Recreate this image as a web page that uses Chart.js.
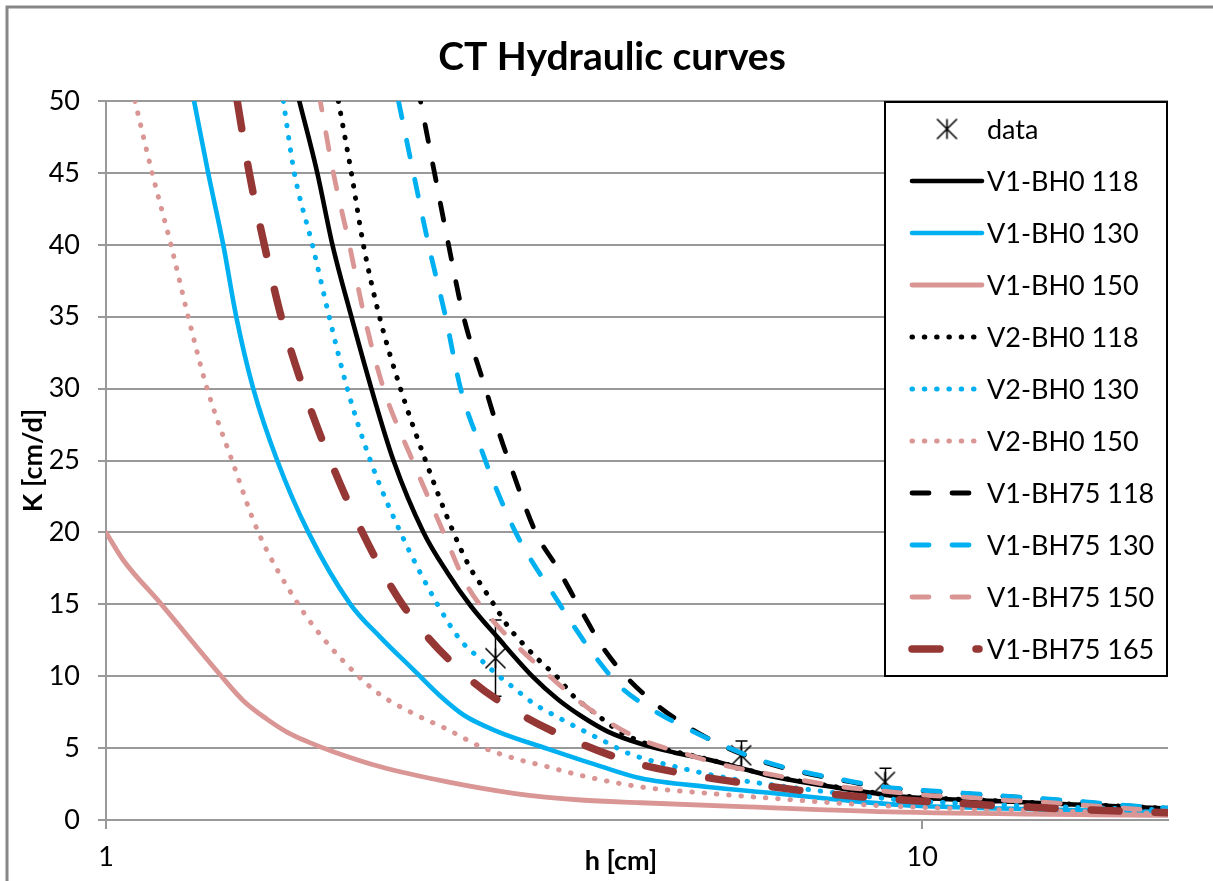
<!DOCTYPE html>
<html>
<head>
<meta charset="utf-8">
<script src="https://cdn.jsdelivr.net/npm/chart.js@4.4.1/dist/chart.umd.min.js"></script>
<style>
  html, body { margin: 0; padding: 0; background: #ffffff; }
  canvas { display: block; }
</style>
</head>
<body>
<canvas id="chart" width="1213" height="881"></canvas>
<script>
// ---- Chart values: h [cm] (x) and K [cm/d] (y) for each curve ----
const chartTitle = 'CT Hydraulic curves';
const xTitle = 'h [cm]';
const yTitle = 'K [cm/d]';
const xTickValues = [1, 10];
const yTickValues = [0, 5, 10, 15, 20, 25, 30, 35, 40, 45, 50];

// measured points
const dataH = [3.0, 6.0, 9.0];
const dataK = [11.25, 4.5, 2.65];
const dataErr = [2.65, 1.0, 0.95];

const hV1BH0_118 = [1.725, 1.815, 1.894, 1.998, 2.114, 2.25, 2.449, 2.62, 2.797, 3.018, 3.342, 3.576, 3.816, 4.119, 4.52, 4.963, 5.463, 5.997, 6.582, 7.247, 7.954, 8.733, 9.424, 12.5, 16.58, 20];
const kV1BH0_118 = [50, 45, 40, 35, 30, 25, 20, 17.2, 14.9, 12.7, 9.9, 8.4, 7.25, 6.15, 5.3, 4.7, 4.2, 3.6, 3.0, 2.57, 2.2, 1.86, 1.63, 1.3, 1.0, 0.8];

const hV1BH0_130 = [1.282, 1.334, 1.392, 1.444, 1.515, 1.621, 1.77, 1.993, 2.169, 2.38, 2.569, 2.742, 3.018, 3.476, 4.004, 4.52, 5.463, 6.582, 7.954, 9.424, 12.5, 20];
const kV1BH0_130 = [50, 45, 40, 35, 30, 25, 20, 15, 12.7, 10.45, 8.6, 7.3, 6.15, 4.95, 3.8, 2.9, 2.3, 1.86, 1.39, 1.04, 0.8, 0.55];

const hV1BH0_150 = [1.0, 1.049, 1.165, 1.38, 1.473, 1.576, 1.668, 1.765, 1.899, 2.169, 2.62, 3.158, 3.816, 4.52, 5.997, 9.424, 20];
const kV1BH0_150 = [20, 18.1, 15.1, 10.1, 8.3, 7.0, 6.1, 5.45, 4.75, 3.7, 2.65, 1.86, 1.39, 1.2, 0.93, 0.55, 0.32];

const hV2BH0_118 = [1.926, 1.998, 2.067, 2.163, 2.295, 2.463, 2.665, 2.789, 2.901, 3.001, 3.114, 3.249, 3.408, 3.576, 3.741, 3.926, 4.073, 4.272, 4.65, 5.356, 6.582, 7.954, 9.424, 12.5, 20];
const kV2BH0_118 = [50, 45, 40, 35, 30, 25, 20, 17.6, 16.1, 14.8, 13.4, 12.2, 11.0, 9.9, 8.6, 7.65, 6.95, 6.1, 5.2, 4.35, 3.05, 2.25, 1.68, 1.32, 0.82];

const hV2BH0_130 = [1.649, 1.701, 1.79, 1.877, 1.975, 2.108, 2.295, 2.547, 2.719, 2.86, 3.001, 3.158, 3.342, 3.536, 3.816, 4.119, 4.357, 4.949, 5.797, 7.066, 8.659, 9.424, 12.5, 20];
const kV2BH0_130 = [50, 45, 40, 35, 30, 25, 20, 15, 12.5, 11.3, 10.2, 9.2, 8.1, 7.3, 6.3, 5.35, 4.65, 3.75, 2.9, 2.2, 1.6, 1.39, 1.05, 0.7];

const hV2BH0_150 = [1.085, 1.139, 1.201, 1.261, 1.33, 1.427, 1.537, 1.72, 1.841, 2.038, 2.169, 2.38, 2.62, 2.877, 3.158, 3.476, 3.816, 4.52, 5.463, 6.582, 7.954, 9.424, 20];
const kV2BH0_150 = [50, 45, 40, 35, 30, 25, 20, 15, 12.7, 10, 8.7, 7.4, 6.3, 5.1, 4.3, 3.7, 3.1, 2.3, 1.86, 1.5, 1.16, 0.93, 0.45];

const hV1BH75_118 = [2.428, 2.526, 2.628, 2.742, 2.917, 3.044, 3.114, 3.361, 3.576, 3.827, 4.061, 4.357, 4.73, 5.207, 5.748, 6.381, 7.145, 7.954, 8.906, 10, 11.19, 12.53, 14.04, 15.72, 17.6, 20];
const kV1BH75_118 = [50, 45, 40, 35, 30, 26.6, 25, 20, 17.5, 14.5, 12.0, 9.85, 8.0, 6.35, 5.05, 4.05, 3.3, 2.78, 2.28, 2.03, 1.84, 1.65, 1.45, 1.24, 1.0, 0.8];

const hV1BH75_130 = [2.282, 2.38, 2.484, 2.606, 2.719, 2.869, 2.984, 3.176, 3.332, 3.496, 3.72, 3.97, 4.272, 4.677, 5.177, 5.748, 6.381, 7.145, 7.954, 8.906, 10, 11.19, 12.53, 14.04, 15.72, 17.6, 20];
const kV1BH75_130 = [50, 45, 40, 35, 30, 26.1, 23.5, 20, 17.9, 16.1, 13.7, 11.4, 9.25, 7.65, 6.3, 5.1, 4.1, 3.35, 2.82, 2.32, 2.07, 1.88, 1.68, 1.48, 1.27, 1.03, 0.83];

const hV1BH75_150 = [1.83, 1.899, 1.987, 2.073, 2.188, 2.374, 2.591, 2.757, 2.934, 3.176, 3.457, 3.762, 4.119, 4.52, 5.09, 5.683, 6.345, 7.106, 7.976, 8.906, 10, 11.19, 12.53, 14.04, 15.72, 17.6, 20];
const kV1BH75_150 = [50, 45, 40, 35, 30, 25, 20, 16.5, 14.3, 12.2, 10.25, 8.45, 6.85, 5.6, 4.65, 3.85, 3.3, 2.78, 2.3, 2.03, 1.74, 1.6, 1.39, 1.25, 1.04, 0.83, 0.6];

const hV1BH75_165 = [1.448, 1.498, 1.563, 1.639, 1.745, 1.883, 2.061, 2.307, 2.765, 3.221, 3.784, 4.419, 5.386, 6.471, 7.755, 9.162, 11.16, 13.42, 16.12, 20];
const kV1BH75_165 = [50, 45, 40, 35, 30, 25, 20, 15, 10, 7.35, 5.4, 4.0, 3.0, 2.35, 1.8, 1.45, 1.15, 0.9, 0.7, 0.5];

// ---- styling ----
const BLACK = '#000000';
const BLUE = '#00b0f0';
const PINK = '#d99694';
const DARKRED = '#953735';
const DOT = [0.5, 11.8];
const DASH = [17, 23];
const LONGDASH = [28, 36];
const FONT = 'Lato, "Open Sans", sans-serif';
const GRID = '#999999';

const pts = (hs, ks) => hs.map((v, i) => ({ x: v, y: ks[i] }));

function curve(label, hs, ks, color, width, dash) {
  return {
    label,
    data: pts(hs, ks),
    showLine: true,
    borderColor: color,
    backgroundColor: color,
    borderWidth: width,
    borderDash: dash,
    borderDashOffset: 0,
    borderCapStyle: 'round',
    borderJoinStyle: 'round',
    cubicInterpolationMode: 'monotone',
    pointRadius: 0,
    fill: false
  };
}

// six-armed asterisk used for the measured points
function makeStar(size) {
  const c = document.createElement('canvas');
  c.width = size; c.height = size;
  const g = c.getContext('2d');
  const m = size / 2, r = size / 2 - 1.5;
  g.strokeStyle = '#000';
  g.lineWidth = 1.6;
  g.beginPath();
  g.moveTo(m - r, m - r); g.lineTo(m + r, m + r);
  g.moveTo(m - r, m + r); g.lineTo(m + r, m - r);
  g.moveTo(m, m - r); g.lineTo(m, m + r);
  g.stroke();
  return c;
}

// pixel length of a drawn curve from its first point up to pixel column xEnd
function lengthTo(meta, xEnd) {
  const p = meta.data;
  let len = 0;
  for (let i = 1; i < p.length; i++) {
    const a = p[i - 1], b = p[i];
    if (b.x <= xEnd) {
      len += Math.hypot(b.x - a.x, b.y - a.y);
    } else {
      const t = (xEnd - a.x) / (b.x - a.x);
      len += t * Math.hypot(b.x - a.x, b.y - a.y);
      break;
    }
  }
  return len;
}

function build() {
  const star = makeStar(23);

  const curves = [
    curve('V1-BH0 118', hV1BH0_118, kV1BH0_118, BLACK, 4.6, []),
    curve('V1-BH0 130', hV1BH0_130, kV1BH0_130, BLUE, 4.6, []),
    curve('V1-BH0 150', hV1BH0_150, kV1BH0_150, PINK, 4.8, []),
    curve('V2-BH0 118', hV2BH0_118, kV2BH0_118, BLACK, 5, DOT),
    curve('V2-BH0 130', hV2BH0_130, kV2BH0_130, BLUE, 5, DOT),
    curve('V2-BH0 150', hV2BH0_150, kV2BH0_150, PINK, 5, DOT),
    curve('V1-BH75 118', hV1BH75_118, kV1BH75_118, BLACK, 4.8, DASH),
    curve('V1-BH75 130', hV1BH75_130, kV1BH75_130, BLUE, 4.8, DASH),
    curve('V1-BH75 150', hV1BH75_150, kV1BH75_150, PINK, 4.8, DASH),
    curve('V1-BH75 165', hV1BH75_165, kV1BH75_165, DARKRED, 7.5, LONGDASH)
  ];

  const dataSet = {
    label: 'data',
    data: pts(dataH, dataK),
    showLine: false,
    pointStyle: star,
    pointRadius: 11,
    borderColor: '#000',
    backgroundColor: '#000'
  };

  const datasets = [dataSet].concat(curves);
  // later series are painted over earlier ones
  datasets.forEach((d, i) => { d.order = datasets.length - i; });

  // outer frame, title and axis titles
  const framePlugin = {
    id: 'frame',
    beforeDraw(chart) {
      const ctx = chart.ctx;
      ctx.save();
      ctx.fillStyle = '#ffffff';
      ctx.fillRect(0, 0, chart.width, chart.height);
      ctx.strokeStyle = '#878787';
      ctx.lineWidth = 3;
      ctx.beginPath();
      ctx.moveTo(7, chart.height);
      ctx.lineTo(7, 7);
      ctx.lineTo(chart.width, 7);
      ctx.stroke();
      ctx.restore();
    },
    afterDraw(chart) {
      const ctx = chart.ctx;
      const ca = chart.chartArea;
      ctx.save();
      ctx.fillStyle = '#000';
      ctx.textAlign = 'center';
      ctx.textBaseline = 'alphabetic';
      ctx.font = 'bold 39px ' + FONT;
      ctx.fillText(chartTitle, 612, 70);
      ctx.font = 'bold 27px ' + FONT;
      ctx.textBaseline = 'middle';
      ctx.fillText(xTitle, 621, 861);
      ctx.translate(33, (ca.top + ca.bottom) / 2);
      ctx.rotate(-Math.PI / 2);
      ctx.fillText(yTitle, 0, 0);
      ctx.restore();
    }
  };

  // error bars of the measured points, drawn beneath the curves
  const errorBarPlugin = {
    id: 'errorBars',
    beforeDatasetsDraw(chart) {
      const ctx = chart.ctx;
      const xs = chart.scales.x, ys = chart.scales.y;
      const ca = chart.chartArea;
      ctx.save();
      ctx.beginPath();
      ctx.rect(ca.left, ca.top, ca.right - ca.left, ca.bottom - ca.top);
      ctx.clip();
      ctx.strokeStyle = '#000';
      ctx.lineWidth = 1.5;
      dataH.forEach((h, i) => {
        const px = Math.round(xs.getPixelForValue(h)) + 0.5;
        const yt = ys.getPixelForValue(dataK[i] + dataErr[i]);
        const yb = ys.getPixelForValue(dataK[i] - dataErr[i]);
        ctx.beginPath();
        ctx.moveTo(px, yt); ctx.lineTo(px, yb);
        ctx.moveTo(px - 6, yt); ctx.lineTo(px + 6, yt);
        ctx.moveTo(px - 6, yb); ctx.lineTo(px + 6, yb);
        ctx.stroke();
      });
      ctx.restore();
    }
  };

  // boxed legend in the upper right corner of the plot area
  const legendPlugin = {
    id: 'boxLegend',
    afterDraw(chart) {
      const ctx = chart.ctx;
      const ca = chart.chartArea;
      const left = 884, top = ca.top, right = ca.right, bottom = 677;
      ctx.save();
      ctx.fillStyle = '#ffffff';
      ctx.fillRect(left, top, right - left, bottom - top);
      ctx.strokeStyle = '#000';
      ctx.lineWidth = 2;
      ctx.strokeRect(left + 1, top + 1, right - left - 2, bottom - top - 2);
      ctx.font = '27px ' + FONT;
      ctx.textBaseline = 'middle';
      ctx.textAlign = 'left';
      const step = (bottom - top - 56) / 10;
      chart.data.datasets.forEach((ds, i) => {
        const y = top + 28 + i * step;
        if (ds.showLine === false) {
          ctx.drawImage(ds.pointStyle, left + 63 - ds.pointStyle.width / 2, y - ds.pointStyle.height / 2);
        } else {
          ctx.save();
          ctx.strokeStyle = ds.borderColor;
          ctx.lineWidth = ds.borderWidth;
          ctx.lineCap = 'round';
          ctx.setLineDash(ds.borderDash || []);
          ctx.beginPath();
          ctx.moveTo(left + 28, y);
          ctx.lineTo(left + (ds.borderWidth > 6 ? 95 : 98), y);
          ctx.stroke();
          ctx.restore();
        }
        ctx.fillStyle = '#000';
        ctx.fillText(ds.label, left + 103, y + 1);
      });
      ctx.restore();
    }
  };

  const chart = new Chart(document.getElementById('chart'), {
    type: 'scatter',
    data: { datasets },
    plugins: [framePlugin, errorBarPlugin, legendPlugin],
    options: {
      responsive: false,
      animation: false,
      devicePixelRatio: 1,
      events: [],
      layout: { padding: { left: 0, top: 101, right: 45, bottom: 0 } },
      plugins: {
        legend: { display: false },
        title: { display: false },
        tooltip: { enabled: false }
      },
      scales: {
        x: {
          type: 'logarithmic',
          position: 'bottom',
          min: 1,
          max: 20,
          afterFit(s) { s.height = 61; },
          afterBuildTicks(s) { s.ticks = xTickValues.map(v => ({ value: v })); },
          grid: { drawOnChartArea: false, drawTicks: true, tickLength: 9, color: GRID, lineWidth: 2 },
          border: { display: true, color: GRID, width: 2 },
          ticks: {
            autoSkip: false,
            maxRotation: 0,
            padding: 12,
            color: '#000',
            font: { family: FONT, size: 27 },
            callback: v => String(v)
          }
        },
        y: {
          type: 'linear',
          min: 0,
          max: 50,
          afterFit(s) { s.width = 106; },
          afterBuildTicks(s) { s.ticks = yTickValues.map(v => ({ value: v })); },
          grid: { color: GRID, lineWidth: 2, tickLength: 8, drawTicks: true },
          border: { display: true, color: GRID, width: 2 },
          ticks: {
            padding: 18,
            color: '#000',
            font: { family: FONT, size: 27 },
            callback: v => String(v)
          }
        }
      }
    }
  });

  // the three short-dash curves run together in the tail; keep their dashes in step there
  const period = DASH[0] + DASH[1];
  const xRef = chart.scales.x.getPixelForValue(8);
  const blueIdx = datasets.indexOf(curves[7]);
  const lenBlue = lengthTo(chart.getDatasetMeta(blueIdx), xRef);
  [curves[6], curves[8]].forEach(ds => {
    const idx = datasets.indexOf(ds);
    const len = lengthTo(chart.getDatasetMeta(idx), xRef);
    ds.borderDashOffset = (((lenBlue - len) % period) + period) % period;
  });
  chart.update('none');
}

Promise.all([
  document.fonts.load('27px Lato'),
  document.fonts.load('bold 27px Lato')
]).then(build, build);
</script>
</body>
</html>
